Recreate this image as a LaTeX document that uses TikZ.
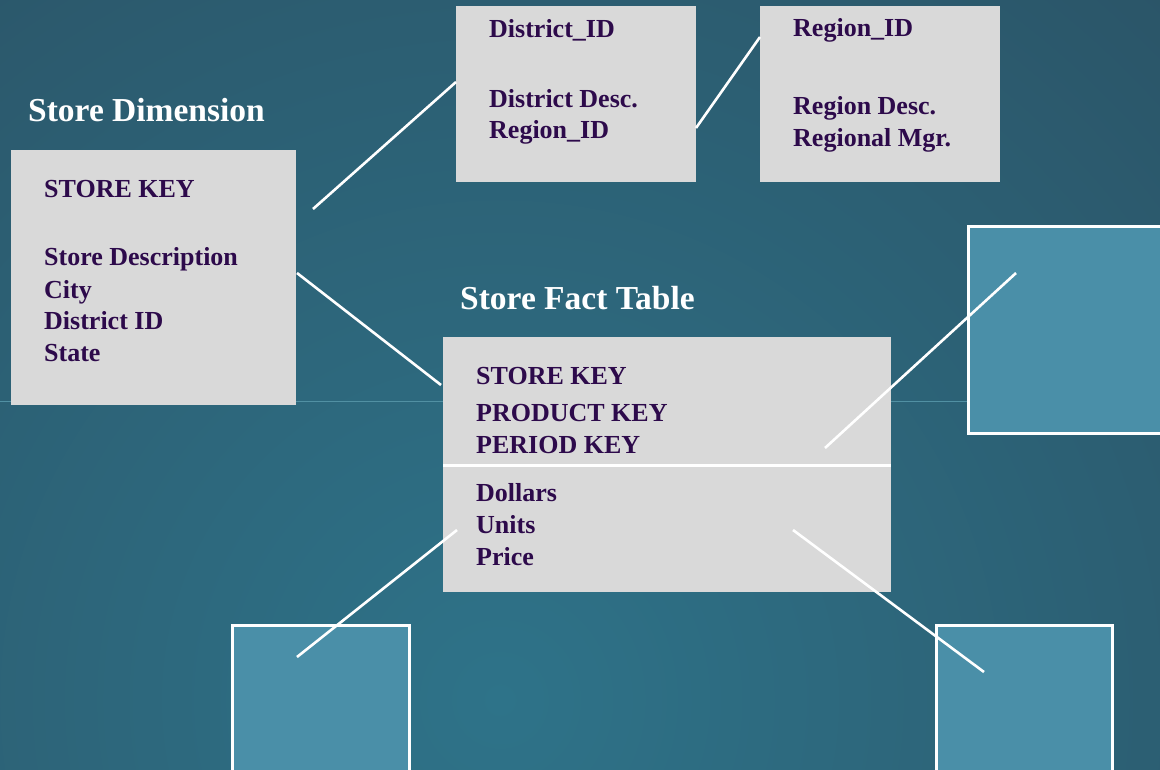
\documentclass[tikz,border=0pt]{standalone}
\usepackage{fontspec}
\setmainfont{Liberation Serif}
\definecolor{bgd}{HTML}{2B5467}
\definecolor{bgl}{HTML}{2E7389}
\definecolor{boxgray}{HTML}{D9D9D9}
\definecolor{txt}{HTML}{2D0A4B}
\definecolor{sqblue}{HTML}{4A8FA8}
\definecolor{faint}{HTML}{5190A3}
\begin{document}
\begin{tikzpicture}[x=1pt,y=-1pt,
  tbl/.style={fill=boxgray, draw=none, anchor=north west, inner sep=0pt, outer sep=0pt},
  sq/.style={fill=sqblue, draw=white, line width=3pt, anchor=north west, inner sep=0pt, outer sep=0pt},
  fld/.style={anchor=base west, inner sep=0pt, text=txt, font=\bfseries\fontsize{26}{30}\selectfont},
  ttl/.style={anchor=base west, inner sep=0pt, text=white, font=\bfseries\fontsize{33.5}{38}\selectfont},
  link/.style={draw=white, line width=2.6pt}]
\useasboundingbox (0,0) rectangle (1160,769);
\begin{scope}
\clip (0,0) rectangle (1160,769);
\shade[inner color=bgl, outer color=bgd] (-500,-300) rectangle (1500,1700);
\draw[faint, line width=0.8pt] (0,401) -- (1160,401);
\end{scope}
% blue squares
\begin{scope}
\clip (0,0) rectangle (1160,769);
\node[sq, minimum width=200pt, minimum height=207pt] (sqr) at (968,226) {};
\node[sq, minimum width=177pt, minimum height=160pt] (sqbl) at (232,625) {};
\node[sq, minimum width=176pt, minimum height=160pt] (sqbr) at (936,625) {};
\end{scope}
% tables
\node[tbl, minimum width=285pt, minimum height=255pt] (sd) at (11,150) {};
\node[tbl, minimum width=240pt, minimum height=176pt] (dist) at (456,6) {};
\node[tbl, minimum width=240pt, minimum height=176pt] (reg) at (760,6) {};
\node[tbl, minimum width=448pt, minimum height=255pt] (fact) at (443,337) {};
\draw[white, line width=3pt] (fact.west |- 0,465) -- (fact.east |- 0,465);
% titles
\node[ttl] (tsd) at (28,121) {Store Dimension};
\node[ttl] (tfact) at (460,309) {Store Fact Table};
% store dimension fields
\node[fld] at (44,197) {STORE KEY};
\node[fld] at (44,265) {Store Description};
\node[fld] at (44,298) {City};
\node[fld] at (44,329) {District ID};
\node[fld] at (44,361) {State};
% district fields
\node[fld] at (489,37) {District\_ID};
\node[fld] at (489,107) {District Desc.};
\node[fld] at (489,138) {Region\_ID};
% region fields
\node[fld] at (793,36) {Region\_ID};
\node[fld] at (793,114) {Region Desc.};
\node[fld] at (793,146) {Regional Mgr.};
% fact fields
\node[fld] at (476,384) {STORE KEY};
\node[fld] at (476,421) {PRODUCT KEY};
\node[fld] at (476,453) {PERIOD KEY};
\node[fld] at (476,501) {Dollars};
\node[fld] at (476,533) {Units};
\node[fld] at (476,565) {Price};
% connector end points
\coordinate (c1a) at (313,209);
\coordinate (c1b) at (456,82);
\coordinate (c2a) at (696,128);
\coordinate (c2b) at (760,37);
\coordinate (c3a) at (297,273);
\coordinate (c3b) at (441,385);
\coordinate (c4a) at (1016,273);
\coordinate (c4b) at (825,448);
\coordinate (c5a) at (457,530);
\coordinate (c5b) at (297,657);
\coordinate (c6a) at (793,530);
\coordinate (c6b) at (984,672);
\draw[link] (c1a) -- (c1b);
\draw[link] (c2a) -- (c2b);
\draw[link] (c3a) -- (c3b);
\draw[link] (c4a) -- (c4b);
\draw[link] (c5a) -- (c5b);
\draw[link] (c6a) -- (c6b);
\end{tikzpicture}
\end{document}
